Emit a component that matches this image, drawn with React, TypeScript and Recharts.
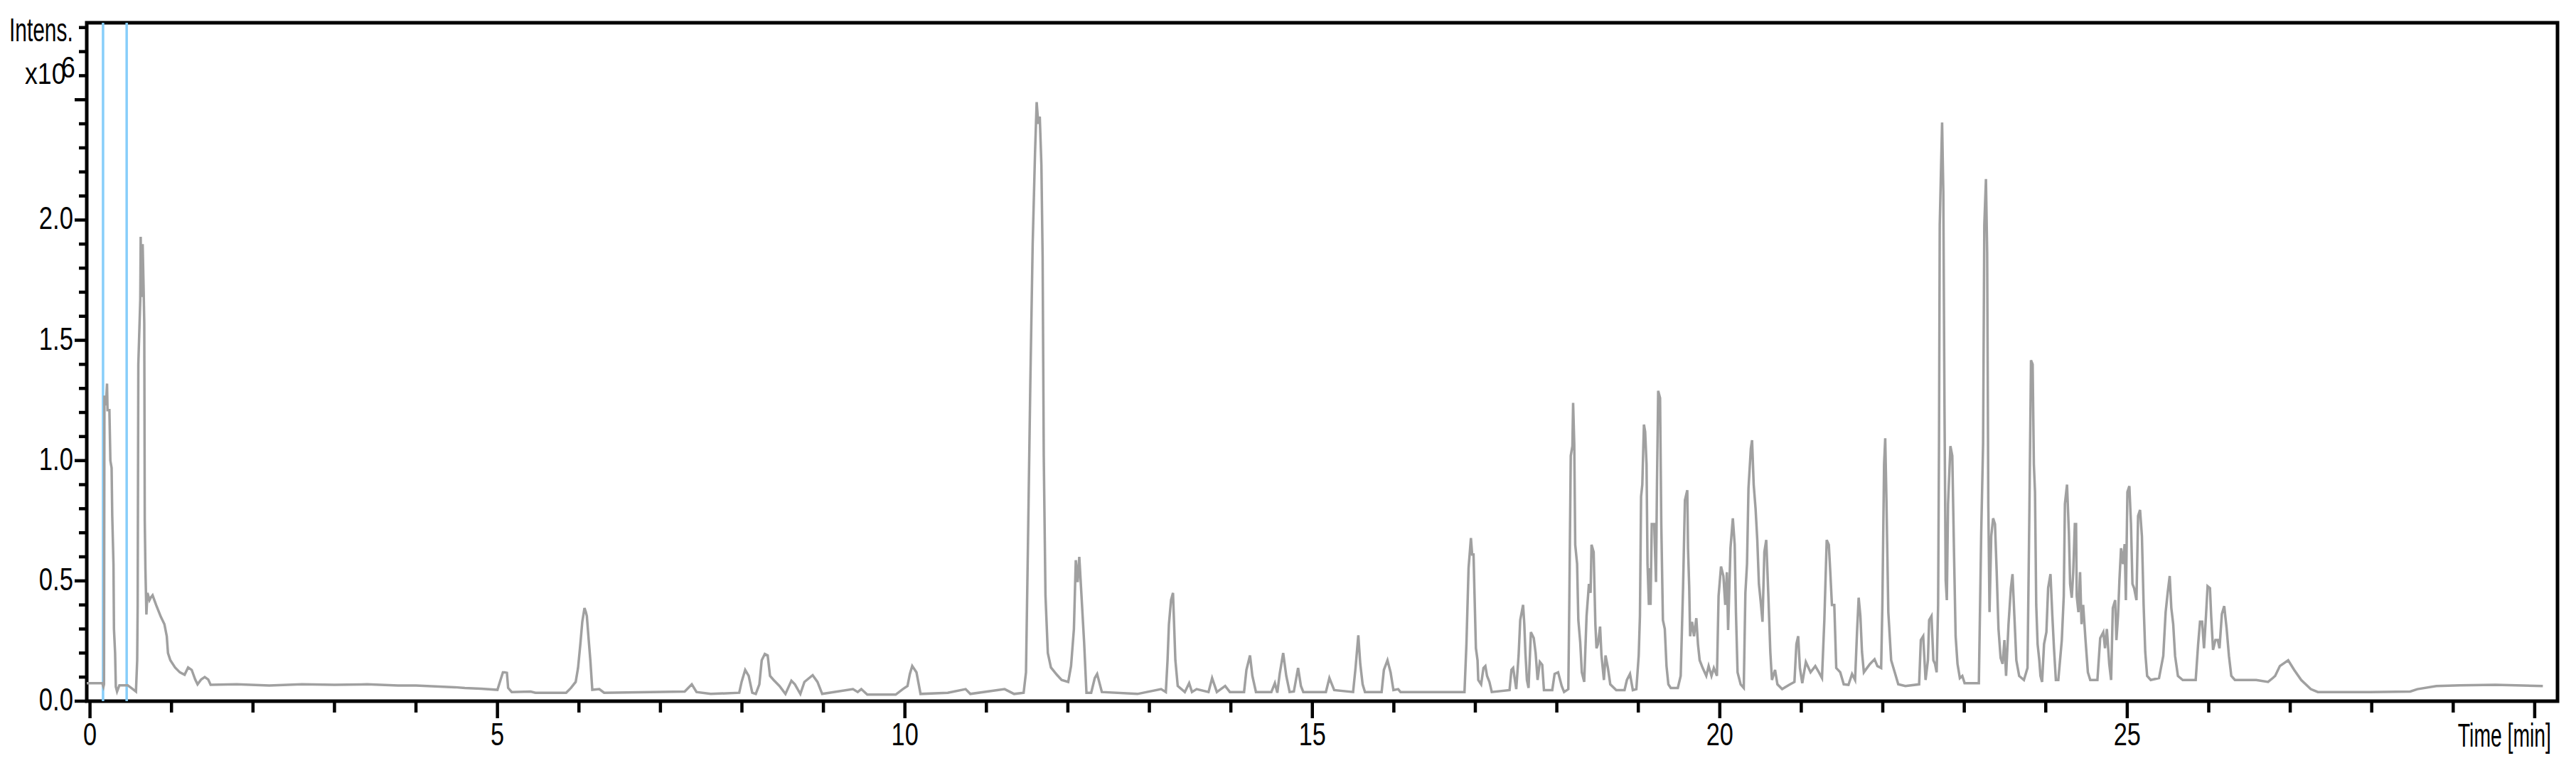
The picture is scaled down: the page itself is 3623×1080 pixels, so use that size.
import { LineChart, Line, XAxis, YAxis, ReferenceLine, ReferenceArea } from "recharts"

// chromatogram trace: [time (min), intensity (x10^6)]
const traceStart: [number, number][] = [
  [-0.04, 0.075], [0.15, 0.075], [0.165, 0.06], [0.172, 0.07], [0.177, 1.27], [0.195, 1.23],
  [0.209, 1.32], [0.215, 1.21], [0.238, 1.21], [0.25, 1.0], [0.265, 0.97], [0.273, 0.77],
  [0.288, 0.57], [0.294, 0.3], [0.308, 0.2], [0.317, 0.06], [0.332, 0.04], [0.361, 0.066],
  [0.463, 0.066], [0.506, 0.055], [0.564, 0.04], [0.579, 0.17], [0.585, 0.4], [0.593, 1.4],
  [0.617, 1.67], [0.622, 1.93], [0.631, 1.68], [0.646, 1.9], [0.657, 1.73], [0.666, 1.57],
  [0.672, 0.75], [0.68, 0.55], [0.692, 0.36], [0.705, 0.45], [0.73, 0.42], [0.745, 0.43],
  [0.768, 0.44], [0.811, 0.4], [0.87, 0.35], [0.913, 0.32], [0.942, 0.27], [0.957, 0.2],
  [0.986, 0.17], [1.044, 0.14], [1.102, 0.12], [1.161, 0.11], [1.204, 0.14], [1.248, 0.13],
  [1.291, 0.09], [1.32, 0.07], [1.364, 0.09], [1.408, 0.1], [1.451, 0.09], [1.48, 0.068],
  [1.8, 0.07], [2.2, 0.065], [2.6, 0.07], [3.0, 0.068], [3.4, 0.07], [3.78, 0.065],
]

const traceEarly: [number, number][] = [
  [4.0, 0.065], [4.476, 0.058], [4.6, 0.055], [4.8, 0.052], [5.0, 0.047], [5.03, 0.08],
  [5.067, 0.12], [5.087, 0.12], [5.116, 0.118], [5.131, 0.055], [5.175, 0.038], [5.407, 0.04],
  [5.466, 0.035], [5.843, 0.035], [5.902, 0.055], [5.96, 0.08], [5.989, 0.138], [6.018, 0.24],
  [6.041, 0.33], [6.068, 0.387], [6.085, 0.37], [6.097, 0.354], [6.12, 0.254], [6.14, 0.17],
  [6.164, 0.047], [6.25, 0.05], [6.309, 0.035], [7.298, 0.04], [7.385, 0.07], [7.443, 0.038],
  [7.618, 0.03], [7.967, 0.035], [7.996, 0.08], [8.04, 0.13], [8.083, 0.105], [8.127, 0.035],
  [8.17, 0.03], [8.214, 0.07], [8.243, 0.17], [8.281, 0.196], [8.316, 0.19], [8.345, 0.105],
  [8.389, 0.088], [8.461, 0.063], [8.534, 0.03], [8.607, 0.085], [8.65, 0.07], [8.717, 0.03],
  [8.767, 0.08], [8.868, 0.108], [8.927, 0.08], [8.985, 0.03], [9.363, 0.05], [9.421, 0.038],
  [9.465, 0.05], [9.538, 0.027], [9.887, 0.027], [9.974, 0.05], [10.032, 0.063], [10.061, 0.113],
  [10.09, 0.146], [10.142, 0.12], [10.192, 0.03], [10.526, 0.035], [10.745, 0.05], [10.803, 0.03],
  [11.224, 0.05], [11.34, 0.03], [11.457, 0.035],
]

const traceMiddle: [number, number][] = [
  [11.486, 0.12], [11.51, 0.65], [11.539, 1.32], [11.568, 1.9], [11.597, 2.28], [11.617, 2.49],
  [11.637, 2.4], [11.655, 2.43], [11.675, 2.23], [11.69, 1.85], [11.704, 1.02], [11.725, 0.44],
  [11.754, 0.2], [11.792, 0.14], [11.864, 0.11], [11.923, 0.088], [12.004, 0.08], [12.039, 0.146],
  [12.074, 0.3], [12.097, 0.586], [12.12, 0.495], [12.14, 0.6], [12.17, 0.42], [12.2, 0.24],
  [12.228, 0.035], [12.286, 0.035], [12.33, 0.096], [12.359, 0.113], [12.417, 0.038], [12.853, 0.03],
  [13.144, 0.05], [13.202, 0.038], [13.223, 0.17], [13.24, 0.32], [13.266, 0.42], [13.29, 0.45],
  [13.319, 0.17], [13.348, 0.063], [13.435, 0.038], [13.488, 0.075], [13.523, 0.038], [13.58, 0.05],
  [13.726, 0.038], [13.77, 0.096], [13.828, 0.038], [13.93, 0.063], [13.988, 0.038], [14.162, 0.038],
  [14.191, 0.13], [14.235, 0.19], [14.264, 0.105], [14.308, 0.038], [14.497, 0.038], [14.54, 0.075],
  [14.57, 0.035], [14.599, 0.113], [14.642, 0.2], [14.68, 0.105], [14.721, 0.038], [14.773, 0.04],
  [14.825, 0.138], [14.86, 0.063], [14.889, 0.038], [15.166, 0.038], [15.209, 0.096], [15.268, 0.046],
  [15.5, 0.038], [15.53, 0.138], [15.564, 0.274], [15.588, 0.155], [15.617, 0.07], [15.646, 0.038],
  [15.85, 0.038], [15.878, 0.13], [15.922, 0.17], [15.96, 0.12], [15.995, 0.046], [16.053, 0.05],
  [16.082, 0.038], [16.867, 0.038],
]

const traceCluster1: [number, number][] = [
  [16.891, 0.24], [16.917, 0.553], [16.946, 0.678], [16.961, 0.61], [16.978, 0.61], [16.992, 0.42],
  [17.007, 0.22], [17.027, 0.17], [17.036, 0.088], [17.071, 0.07], [17.1, 0.138], [17.123, 0.146],
  [17.144, 0.105], [17.173, 0.08], [17.202, 0.038], [17.42, 0.046], [17.443, 0.13], [17.464, 0.138],
  [17.502, 0.05], [17.531, 0.19], [17.551, 0.337], [17.586, 0.4], [17.601, 0.32], [17.615, 0.2],
  [17.633, 0.088], [17.653, 0.055], [17.682, 0.287], [17.717, 0.262], [17.74, 0.2], [17.764, 0.088],
  [17.792, 0.163], [17.821, 0.151], [17.842, 0.046], [17.944, 0.046], [17.973, 0.113], [18.016, 0.12],
  [18.06, 0.063], [18.089, 0.038], [18.141, 0.05], [18.153, 0.4], [18.171, 1.02], [18.191, 1.06],
  [18.2, 1.24], [18.214, 1.07], [18.226, 0.65], [18.249, 0.57], [18.264, 0.337], [18.287, 0.246],
  [18.307, 0.12], [18.336, 0.08], [18.365, 0.354], [18.394, 0.487], [18.414, 0.45], [18.426, 0.65],
  [18.452, 0.62], [18.473, 0.32], [18.487, 0.22], [18.505, 0.237], [18.531, 0.31], [18.548, 0.19],
  [18.578, 0.088], [18.598, 0.19], [18.627, 0.138], [18.656, 0.07], [18.729, 0.046], [18.831, 0.046],
  [18.86, 0.088], [18.898, 0.113], [18.933, 0.046], [18.976, 0.05], [19.005, 0.19], [19.02, 0.354],
  [19.034, 0.85], [19.049, 0.9], [19.069, 1.15], [19.084, 1.12], [19.101, 0.985], [19.113, 0.57],
  [19.13, 0.4],
]

const traceCluster2: [number, number][] = [
  [19.136, 0.553], [19.15, 0.4], [19.165, 0.736], [19.195, 0.736], [19.217, 0.495], [19.229, 0.9],
  [19.244, 1.29], [19.267, 1.26], [19.282, 0.736], [19.302, 0.337], [19.325, 0.3], [19.346, 0.146],
  [19.369, 0.07], [19.398, 0.055], [19.485, 0.055], [19.52, 0.105], [19.549, 0.47], [19.572, 0.835],
  [19.601, 0.877], [19.61, 0.636], [19.625, 0.47], [19.636, 0.27], [19.66, 0.33], [19.683, 0.27],
  [19.712, 0.345], [19.732, 0.237], [19.753, 0.17], [19.79, 0.138], [19.834, 0.105], [19.863, 0.146],
  [19.898, 0.105], [19.927, 0.138], [19.965, 0.105], [19.985, 0.437], [20.015, 0.56], [20.044, 0.52],
  [20.067, 0.4], [20.087, 0.536], [20.102, 0.296], [20.131, 0.636], [20.16, 0.76], [20.183, 0.65],
  [20.198, 0.37], [20.218, 0.12], [20.256, 0.07], [20.294, 0.055], [20.314, 0.45], [20.334, 0.57],
  [20.352, 0.885], [20.381, 1.05], [20.396, 1.085], [20.416, 0.9], [20.439, 0.8], [20.46, 0.67],
  [20.48, 0.487], [20.503, 0.41], [20.524, 0.33], [20.547, 0.62], [20.57, 0.67], [20.596, 0.437],
  [20.62, 0.204], [20.64, 0.088], [20.678, 0.13], [20.707, 0.07], [20.765, 0.05], [20.852, 0.068],
  [20.916, 0.08], [20.94, 0.237], [20.962, 0.27], [20.983, 0.138], [21.012, 0.075], [21.056, 0.163],
  [21.114, 0.12], [21.172, 0.146], [21.216, 0.12], [21.254, 0.096], [21.283, 0.337], [21.312, 0.67],
  [21.338, 0.65], [21.356, 0.536], [21.376, 0.4], [21.405, 0.4], [21.429, 0.138], [21.478, 0.12],
  [21.521, 0.07], [21.579, 0.068], [21.623, 0.113], [21.66, 0.088], [21.684, 0.287], [21.704, 0.43],
  [21.725, 0.354], [21.745, 0.204], [21.768, 0.12], [21.841, 0.154], [21.899, 0.174], [21.934, 0.146],
  [21.98, 0.138], [21.995, 0.4], [22.016, 0.985], [22.03, 1.093], [22.045, 0.835], [22.068, 0.37],
  [22.103, 0.17], [22.147, 0.12], [22.19, 0.07], [22.277, 0.063], [22.446, 0.07], [22.467, 0.254],
  [22.496, 0.27], [22.525, 0.088], [22.554, 0.17], [22.569, 0.337], [22.598, 0.354], [22.621, 0.17],
  [22.641, 0.155], [22.661, 0.12], [22.679, 0.4], [22.69, 1.07], [22.699, 1.98], [22.728, 2.405],
  [22.743, 2.115], [22.757, 1.234], [22.772, 0.503], [22.786, 0.42], [22.801, 0.82], [22.83, 1.06],
  [22.853, 1.02], [22.874, 0.62], [22.894, 0.27], [22.917, 0.155], [22.946, 0.096], [22.976, 0.105],
]

const traceLate: [number, number][] = [
  [23.004, 0.075], [23.179, 0.075], [23.208, 0.7], [23.231, 1.07], [23.246, 1.98], [23.266, 2.17],
  [23.281, 1.865], [23.295, 0.82], [23.31, 0.37], [23.331, 0.686], [23.354, 0.76], [23.377, 0.736],
  [23.397, 0.545], [23.42, 0.3], [23.446, 0.18], [23.47, 0.155], [23.493, 0.254], [23.513, 0.105],
  [23.543, 0.32], [23.572, 0.47], [23.592, 0.528], [23.615, 0.354], [23.639, 0.17], [23.674, 0.105],
  [23.732, 0.088], [23.776, 0.138], [23.799, 0.786], [23.819, 1.417], [23.839, 1.4], [23.854, 0.985],
  [23.868, 0.87], [23.883, 0.4], [23.9, 0.237], [23.921, 0.17], [23.935, 0.105], [23.955, 0.08],
  [23.979, 0.237], [24.008, 0.287], [24.029, 0.47], [24.058, 0.528], [24.081, 0.354], [24.101, 0.22],
  [24.124, 0.088], [24.154, 0.088], [24.197, 0.254], [24.221, 0.437], [24.235, 0.82], [24.261, 0.9],
  [24.284, 0.7], [24.299, 0.487], [24.319, 0.43], [24.337, 0.536], [24.357, 0.736], [24.372, 0.736],
  [24.38, 0.437], [24.401, 0.37], [24.421, 0.536], [24.439, 0.32], [24.459, 0.4], [24.488, 0.254],
  [24.517, 0.12], [24.546, 0.088], [24.634, 0.088], [24.668, 0.262], [24.706, 0.287], [24.727, 0.22],
  [24.75, 0.3], [24.779, 0.155], [24.802, 0.088], [24.823, 0.387], [24.852, 0.42], [24.867, 0.254],
  [24.887, 0.354], [24.904, 0.503], [24.924, 0.636], [24.948, 0.57], [24.968, 0.653], [24.983, 0.42],
  [25.002, 0.87], [25.026, 0.894], [25.046, 0.736], [25.064, 0.487], [25.084, 0.47], [25.113, 0.42],
  [25.133, 0.77], [25.157, 0.795], [25.18, 0.686], [25.201, 0.4], [25.221, 0.204], [25.244, 0.105],
  [25.288, 0.088], [25.39, 0.096], [25.442, 0.188], [25.471, 0.37], [25.497, 0.453], [25.521, 0.52],
  [25.541, 0.387], [25.564, 0.32], [25.587, 0.188], [25.622, 0.105], [25.681, 0.088], [25.84, 0.088],
  [25.87, 0.237], [25.893, 0.33], [25.919, 0.33], [25.942, 0.22], [25.966, 0.354], [25.986, 0.478],
  [26.015, 0.47], [26.03, 0.354], [26.053, 0.213], [26.082, 0.254], [26.111, 0.254], [26.132, 0.22],
  [26.161, 0.362], [26.19, 0.395], [26.219, 0.304], [26.248, 0.188], [26.277, 0.105], [26.321, 0.088],
  [26.582, 0.088], [26.728, 0.08], [26.786, 0.096], [26.815, 0.105], [26.873, 0.146], [26.975, 0.17],
  [27.048, 0.13], [27.135, 0.088], [27.252, 0.05], [27.339, 0.038], [27.978, 0.038], [28.473, 0.04],
  [28.56, 0.05], [28.793, 0.063], [29.083, 0.066], [29.519, 0.068], [30.1, 0.063],
]

const xTicks = [0, 1, 2, 3, 4, 5, 6, 7, 8, 9, 10, 11, 12, 13, 14, 15, 16, 17, 18, 19, 20, 21, 22, 23, 24, 25, 26, 27, 28, 29, 30]
const xLabels = ["0", "5", "10", "15", "20", "25"]
const yTicks = [0, 0.1, 0.2, 0.3, 0.4, 0.5, 0.6, 0.7, 0.8, 0.9, 1.0, 1.1, 1.2, 1.3, 1.4, 1.5, 1.6, 1.7, 1.8, 1.9, 2.0, 2.1, 2.2, 2.3, 2.4, 2.5, 2.6, 2.7, 2.8]
const yMajor = ["0.0", "0.5", "1.0", "1.5", "2.0", "2.5"]
const yLabels = ["0.0", "0.5", "1.0", "1.5", "2.0"]
const markerTimes = [0.16, 0.45]

const data = [...traceStart, ...traceEarly, ...traceMiddle, ...traceCluster1, ...traceCluster2, ...traceLate]
  .map(([t, v]) => ({ t, v }))

const FONT = "'Liberation Sans', Arial, sans-serif"

// the original uses a narrow face: squeeze the glyphs horizontally
function NarrowText({ x, y, scale, anchor = "start", size, children }: any) {
  return (
    <text
      transform={`translate(${x} ${y}) scale(${scale} 1)`}
      textAnchor={anchor}
      fontFamily={FONT}
      fontSize={size}
      fill="#000"
    >
      {children}
    </text>
  )
}

function XTick(props: any) {
  const { x, y, payload } = props
  const label = String(payload.value)
  const major = payload.value % 5 === 0
  return (
    <g>
      <line x1={x} x2={x} y1={y} y2={y + (major ? 24 : 16)} stroke="#000" strokeWidth={4.5} />
      {xLabels.includes(label) && (
        <NarrowText x={x} y={y + 62} scale={0.78} anchor="middle" size={44}>
          {label}
        </NarrowText>
      )}
    </g>
  )
}

function YTick(props: any) {
  const { x, y, payload } = props
  const label = Number(payload.value).toFixed(1)
  const major = yMajor.includes(label)
  return (
    <g>
      <line x1={x - (major ? 17 : 11)} x2={x} y1={y} y2={y} stroke="#000" strokeWidth={4.5} />
      {yLabels.includes(label) && (
        <NarrowText x={x - 19} y={y + 13} scale={0.77} anchor="end" size={45}>
          {label}
        </NarrowText>
      )}
    </g>
  )
}

export default function App() {
  return (
    <div style={{ position: "absolute", left: 0, top: 0, width: 3623, height: 1080, background: "#fff" }}>
      <LineChart width={3623} height={1080} data={data} margin={{ top: 32, right: 26, bottom: 0, left: 0 }}>
        <XAxis
          dataKey="t"
          type="number"
          domain={[-0.04, 30.28]}
          allowDataOverflow
          ticks={xTicks}
          interval={0}
          tick={(p: any) => <XTick {...p} />}
          tickLine={false}
          axisLine={false}
          tickSize={0}
          tickMargin={0}
          height={94}
        />
        <YAxis
          type="number"
          domain={[0, 2.82]}
          allowDataOverflow
          ticks={yTicks}
          interval={0}
          tick={(p: any) => <YTick {...p} />}
          tickLine={false}
          axisLine={false}
          tickSize={0}
          tickMargin={0}
          width={122}
        />
        {markerTimes.map((t) => (
          <ReferenceLine key={t} x={t} stroke="#87cefa" strokeWidth={3.5} />
        ))}
        <Line
          type="linear"
          dataKey="v"
          stroke="#a0a0a0"
          strokeWidth={3.5}
          dot={false}
          activeDot={false}
          isAnimationActive={false}
        />
        <ReferenceArea x1={-0.04} x2={30.28} y1={0} y2={2.82} fill="none" stroke="#000" strokeWidth={5} />
      </LineChart>
      <svg
        width={3623}
        height={1080}
        style={{ position: "absolute", left: 0, top: 0, pointerEvents: "none" }}
      >
        <NarrowText x={13} y={58} scale={0.65} size={46}>Intens.</NarrowText>
        <NarrowText x={35} y={118} scale={0.83} size={43}>
          x10<tspan dx={-8} dy={-9}>6</tspan>
        </NarrowText>
        <NarrowText x={3588} y={1050} scale={0.616} anchor="end" size={46}>Time [min]</NarrowText>
      </svg>
    </div>
  )
}
